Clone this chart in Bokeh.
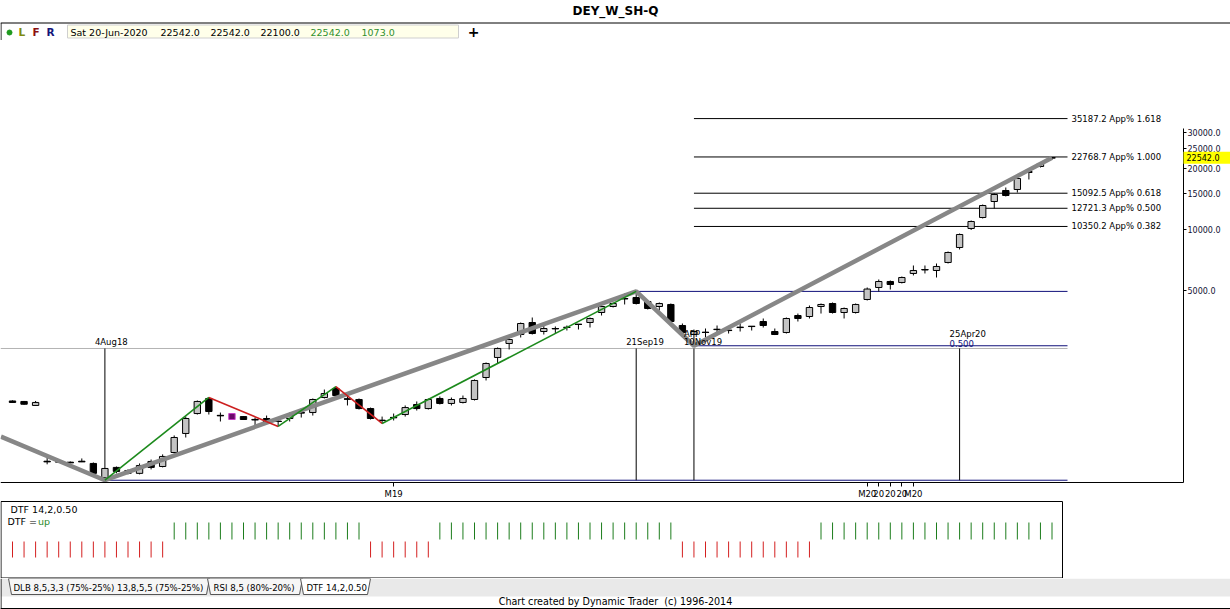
from bokeh.plotting import figure
from bokeh.layouts import column
from bokeh.models import Range1d, LogAxis, LinearAxis, FixedTicker, PrintfTickFormatter, LogScale
from bokeh.core.properties import value
from bokeh.embed import file_html
from bokeh.resources import INLINE

# ---------------- data (weekly bars) ----------------
opens = [1430, 1422, 1359, 722, 720, 714, 722, 704, 600, 673,
         650, 629, 720, 680, 797, 989, 1240, 1471, 1215, 1240,
         1198, 1160, 1172, 1138, 1172, 1247, 1254, 1487, 1647, 1465,
         1454, 1312, 1150, 1187, 1226, 1374, 1312, 1471, 1390, 1406,
         1454, 1866, 2342, 2745, 3039, 3482, 3144, 3240, 3290, 3405,
         3482, 3900, 4175, 4555, 4625, 4420, 4175, 4272, 3366, 3039,
         3120, 3212, 3178, 3288, 3326, 3522, 3144, 3108, 3770, 3727,
         4175, 4320, 3900, 3900, 4521, 5180, 5545, 5483, 6073, 6325,
         6282, 6880, 8154, 10114, 11458, 13737, 15565, 15742, 19090, 20436,
         22542]
highs = [1440, 1430, 1430, 753, 735, 720, 745, 712, 668, 680,
         658, 704, 736, 780, 967, 1199, 1438, 1488, 1254, 1247,
         1205, 1185, 1212, 1185, 1254, 1312, 1471, 1628, 1684, 1521,
         1471, 1327, 1198, 1240, 1359, 1422, 1471, 1505, 1487, 1521,
         1825, 2213, 2623, 2905, 3482, 3685, 3443, 3328, 3366, 3420,
         3685, 4320, 4370, 4838, 4955, 4470, 4370, 4320, 3443, 3216,
         3253, 3366, 3290, 3443, 3345, 3644, 3253, 3685, 3855, 4222,
         4320, 4370, 4128, 4320, 5180, 5672, 5608, 5868, 6648, 6648,
         6800, 7792, 9556, 11075, 13278, 15045, 16100, 18040, 19753, 21390,
         22542]
lows = [1400, 1370, 1359, 697, 708, 705, 715, 622, 582, 629,
        622, 622, 658, 673, 788, 945, 1226, 1226, 1133, 1153,
        1153, 1083, 1108, 1071, 1133, 1185, 1212, 1471, 1487, 1359,
        1298, 1159, 1108, 1146, 1198, 1283, 1298, 1374, 1359, 1390,
        1438, 1804, 2188, 2564, 2938, 3039, 3039, 3073, 3180, 3216,
        3290, 3770, 4128, 4272, 4272, 4036, 3990, 3482, 3039, 2675,
        2938, 3073, 3073, 3144, 3180, 3290, 3020, 3073, 3522, 3644,
        3855, 3855, 3644, 3855, 4470, 4950, 5063, 5420, 5938, 6073,
        5802, 6800, 7971, 9945, 11329, 12689, 14541, 15210, 17634, 20200,
        22100]
closes = [1406, 1378, 1406, 718, 716, 710, 718, 629, 665, 643,
          629, 688, 673, 762, 945, 1172, 1422, 1269, 1210, 1159,
          1159, 1155, 1120, 1133, 1212, 1252, 1454, 1556, 1521, 1460,
          1312, 1172, 1146, 1183, 1327, 1312, 1454, 1390, 1454, 1471,
          1804, 2188, 2594, 2872, 3443, 3073, 3253, 3252, 3296, 3412,
          3644, 4175, 4320, 4565, 4320, 4082, 4320, 3522, 3108, 3144,
          3110, 3222, 3188, 3298, 3334, 3366, 3039, 3644, 3644, 4128,
          4272, 3900, 4082, 4272, 5090, 5545, 5359, 5802, 6282, 6345,
          6574, 7704, 9449, 10950, 13128, 14875, 14707, 17835, 19310, 21145,
          22542]
last_date = "Sat 20-Jun-2020"
last_volume = 1073.0
highlight_bar = 19

# DTF 14,2,0.50 trend state per bar (1 = up, 0 = down)
dtf_up = [0, 0, 0, 0, 0, 0, 0, 0, 0, 0, 0, 0, 0, 0,
          1, 1, 1, 1, 1, 1, 1, 1, 1, 1, 1, 1, 1, 1, 1, 1, 1,
          0, 0, 0, 0, 0, 0,
          1, 1, 1, 1, 1, 1, 1, 1, 1, 1, 1, 1, 1, 1, 1, 1, 1, 1, 1, 1, 1,
          0, 0, 0, 0, 0, 0, 0, 0, 0, 0, 0, 0,
          1, 1, 1, 1, 1, 1, 1, 1, 1, 1, 1, 1, 1, 1, 1, 1, 1, 1, 1, 1, 1]

# swing lines
major_swing_bars = [-1, 8, 54, 59, 90]
major_swing_prices = [955, 582, 4955, 2675, 22542]
minor_swing_bars = [8, 17, 23, 28, 32, 54]
minor_swing_prices = [582, 1488, 1071, 1684, 1108, 4955]

# App% projections from the 10Nov19 low
fib_prices = [35187.2, 22768.7, 15092.5, 12721.3, 10350.2]
fib_ratios = ["1.618", "1.000", "0.618", "0.500", "0.382"]
fib_start_bar = 59

# horizontal swing levels (blue)
level_start_bars = [54, 59, 8]
level_prices = [4955, 2675, 582]

# time markers
time_bars = [8, 54, 59, 82]
time_labels = ["4Aug18", "21Sep19", "10Nov19", "25Apr20"]
time_base_price = 2593

# axes
price_ticks = [5000, 10000, 15000, 20000, 25000, 30000]
month_ticks = [33, 74, 75, 76, 77, 78]
month_labels = ["M19", "M20", "20", "20", "20", "M20"]

# ---------------- layout helpers (reference pixel geometry) ----------------
BAR0_REF_X = 12.0
BAR_PX = 11.55


def bar_at(ref_x):
    return (ref_x - BAR0_REF_X) / BAR_PX


def price_at(ref_y):
    return 10 ** (4 + (229.0 - ref_y) / 203.0)


W = 1230
FONT = "DejaVu Sans"
n = len(closes)
idx = list(range(n))
LINE_END = bar_at(1067)
AXIS_X = bar_at(1183)

xr = Range1d(bar_at(0), bar_at(W))


def base_fig(height, x_range, y_range, **kw):
    f = figure(width=W, height=height, x_range=x_range, y_range=y_range,
               x_axis_location=None, y_axis_location=None,
               toolbar_location=None, output_backend="svg", min_border=0,
               outline_line_color=None, background_fill_color="white",
               border_fill_color="white", **kw)
    f.grid.visible = False
    return f


# ---------------- header ----------------
hdr = base_fig(40, Range1d(0, W), Range1d(40, 0))
hdr.text(x=[615], y=[10], text=["DEY_W_SH-Q"], text_font=value(FONT), text_font_size=value("12px"),
         text_font_style="bold", text_align="center", text_baseline="middle", text_color="black")
hdr.segment(x0=[0], y0=[22.5], x1=[W], y1=[22.5], line_color="black", line_width=1)
hdr.segment(x0=[0.5], y0=[22.5], x1=[0.5], y1=[40], line_color="black", line_width=1)
hdr.quad(left=[67], right=[458], top=[24.5], bottom=[37.5], fill_color="#ffffea", line_color="#cfcfcf")
hdr.scatter(x=[9], y=[32], size=5, fill_color="#1f9a1f", line_color="#1f9a1f")
hdr.text(x=[18, 32, 46], y=[31.5] * 3, text=["L", "F", "R"], text_color=["#7f8a10", "#8b1010", "#14147a"],
         text_font=value(FONT), text_font_size=value("10.5px"), text_font_style="bold",
         text_align="left", text_baseline="middle")
info = [last_date, f"{opens[-1]:.1f}", f"{highs[-1]:.1f}", f"{lows[-1]:.1f}", f"{closes[-1]:.1f}", f"{last_volume:.1f}"]
hdr.text(x=[70, 160, 210, 260, 310, 361], y=[31.5] * 6, text=info,
         text_color=["black", "black", "black", "black", "#2f8f2f", "#2f8f2f"],
         text_font=value(FONT), text_font_size=value("9.5px"), text_align="left", text_baseline="middle")
hdr.text(x=[473], y=[31], text=["+"], text_font=value(FONT), text_font_size=value("14px"),
         text_font_style="bold", text_align="center", text_baseline="middle", text_color="black")

# ---------------- main price chart ----------------
main = base_fig(457, xr, Range1d(price_at(497), price_at(40)), y_axis_type="log")
main.y_scale = LogScale()

# reference lines
main.segment(x0=[bar_at(0)], y0=[time_base_price], x1=[LINE_END], y1=[time_base_price],
             line_color="#b4b4b4", line_width=1)
main.segment(x0=level_start_bars, y0=level_prices, x1=[LINE_END] * 3, y1=level_prices,
             line_color="#10107a", line_width=1)
main.segment(x0=[fib_start_bar] * len(fib_prices), y0=fib_prices, x1=[LINE_END] * len(fib_prices),
             y1=fib_prices, line_color="black", line_width=1)
main.segment(x0=time_bars, y0=[time_base_price] * 4, x1=time_bars, y1=[lows[8]] * 4,
             line_color="black", line_width=1)

# candles
up = [c >= o for o, c in zip(opens, closes)]
fills = ["#c4c4c4" if u else "black" for u in up]
lines = ["black"] * n
fills[highlight_bar] = "#6a0a6a"
lines[highlight_bar] = "#c83cc8"
main.segment(x0=idx, y0=highs, x1=idx, y1=lows, line_color="black", line_width=1)
main.vbar(x=idx, width=0.55, top=[max(o, c) for o, c in zip(opens, closes)],
          bottom=[min(o, c) for o, c in zip(opens, closes)], fill_color=fills, line_color=lines, line_width=1)
doji = [i for i in idx if abs(closes[i] - opens[i]) / opens[i] < 0.006]
main.segment(x0=[i - 0.3 for i in doji], y0=[closes[i] for i in doji],
             x1=[i + 0.3 for i in doji], y1=[closes[i] for i in doji], line_color="black", line_width=1)

# swing lines
main.line(major_swing_bars, major_swing_prices, line_color="#878787", line_width=4.5)
for k in range(len(minor_swing_bars) - 1):
    col = "#1c8a1c" if minor_swing_prices[k + 1] > minor_swing_prices[k] else "#cc1f1f"
    main.line(minor_swing_bars[k:k + 2], minor_swing_prices[k:k + 2], line_color=col, line_width=1.6)

# labels
main.text(x=[LINE_END] * len(fib_prices), y=fib_prices,
          text=[f"{p:.1f} App% {r}" for p, r in zip(fib_prices, fib_ratios)],
          x_offset=4, text_font=value(FONT), text_font_size=value("8.5px"),
          text_align="left", text_baseline="middle", text_color="black")
main.text(x=time_bars[:3], y=[time_base_price] * 3, text=time_labels[:3], x_offset=-10, y_offset=-1,
          text_font=value(FONT), text_font_size=value("8.5px"), text_align="left",
          text_baseline="bottom", text_color="black")
main.text(x=[time_bars[2]], y=[time_base_price], text=["APP"], x_offset=-10, y_offset=-9,
          text_font=value(FONT), text_font_size=value("8.5px"), text_align="left",
          text_baseline="bottom", text_color="black")
main.text(x=[time_bars[3]], y=[time_base_price], text=["0.500"], x_offset=-10, y_offset=-1,
          text_font=value(FONT), text_font_size=value("8.5px"), text_align="left",
          text_baseline="bottom", text_color="#10107a")
main.text(x=[time_bars[3]], y=[time_base_price], text=[time_labels[3]], x_offset=-10, y_offset=-9,
          text_font=value(FONT), text_font_size=value("8.5px"), text_align="left",
          text_baseline="bottom", text_color="black")

# axes
yax = LogAxis(fixed_location=AXIS_X, bounds=(price_at(482), price_at(128)),
              ticker=FixedTicker(ticks=price_ticks), formatter=PrintfTickFormatter(format="%.1f"),
              major_tick_in=0, major_tick_out=3, minor_tick_line_color=None,
              major_label_text_font=FONT, major_label_text_font_size="8px",
              major_label_text_color="#111133", major_label_standoff=1,
              axis_line_color="black", major_tick_line_color="black")
main.add_layout(yax, "right")
xax = LinearAxis(fixed_location=price_at(482), bounds=(bar_at(0), AXIS_X),
                 ticker=FixedTicker(ticks=month_ticks),
                 major_label_overrides={float(t): lab for t, lab in zip(month_ticks, month_labels)},
                 major_tick_in=0, major_tick_out=4, minor_tick_line_color=None,
                 major_label_text_font=FONT, major_label_text_font_size="8.5px",
                 major_label_text_color="black", major_label_standoff=2,
                 axis_line_color="black", major_tick_line_color="black")
main.add_layout(xax, "below")

# last price marker on the price axis
main.rect(x=[AXIS_X + 23.5 / BAR_PX], y=[closes[-1]], width=47, height=12, width_units="screen",
          height_units="screen", fill_color="#ffff00", line_color=None, level="overlay")
main.text(x=[AXIS_X], y=[closes[-1]], text=[f"{closes[-1]:.1f}"], x_offset=3, text_font=value(FONT),
          text_font_size=value("8px"), text_align="left", text_baseline="middle",
          text_color="black", level="overlay")

# ---------------- DTF panel ----------------
dtf = base_fig(81, xr, Range1d(578, 497))
dtf.extra_x_ranges = {"px": Range1d(0, W)}
dtf.quad(left=[0.5], right=[1062], top=[501], bottom=[577.5], fill_color=None, line_color="black",
         line_width=1, x_range_name="px")
dtf.segment(x0=idx, y0=[522 if u else 541 for u in dtf_up], x1=idx, y1=[539 if u else 557 for u in dtf_up],
            line_color=["#1d7d1d" if u else "#d42020" for u in dtf_up], line_width=1)
dtf.text(x=[10], y=[509], text=["DTF 14,2,0.50"], x_range_name="px", text_font=value(FONT),
         text_font_size=value("9.5px"), text_align="left", text_baseline="middle", text_color="black")
dtf.text(x=[7], y=[521], text=["DTF ="], x_range_name="px", text_font=value(FONT),
         text_font_size=value("9.5px"), text_align="left", text_baseline="middle", text_color="black")
dtf.text(x=[37.5], y=[521], text=["up" if dtf_up[-1] else "down"], x_range_name="px", text_font=value(FONT),
         text_font_size=value("9.5px"), text_align="left", text_baseline="middle", text_color="#2a8a2a")

# ---------------- tabs and footer ----------------
bot = base_fig(31, Range1d(0, W), Range1d(609, 578))
bot.quad(left=[0], right=[W], top=[578], bottom=[596], fill_color="#e9e9e9", line_color=None)
bot.patches(xs=[[8, 11, 206, 209], [207, 210, 299, 302], [300, 303, 367, 370]],
            ys=[[578, 594, 594, 578]] * 3, fill_color=["#f6f6f6", "#f6f6f6", "white"],
            line_color="#555555", line_width=1)
bot.segment(x0=[0.5, 0], y0=[578, 608], x1=[0.5, W], y1=[609, 608], line_color="black", line_width=1)
bot.text(x=[13, 213, 306], y=[587] * 3,
         text=["DLB 8,5,3,3 (75%-25%) 13,8,5,5 (75%-25%)", "RSI 8,5 (80%-20%)", "DTF 14,2,0.50"],
         text_font=value(FONT), text_font_size=value("8.6px"), text_align="left", text_baseline="middle",
         text_color="black")
bot.text(x=[615], y=[601], text=["Chart created by Dynamic Trader \u00a0(c) 1996-2014"], text_font=value(FONT),
         text_font_size=value("9.6px"), text_align="center", text_baseline="middle", text_color="black")

p = column(hdr, main, dtf, bot, spacing=0)
open("out.html", "w").write(file_html(p, INLINE))
